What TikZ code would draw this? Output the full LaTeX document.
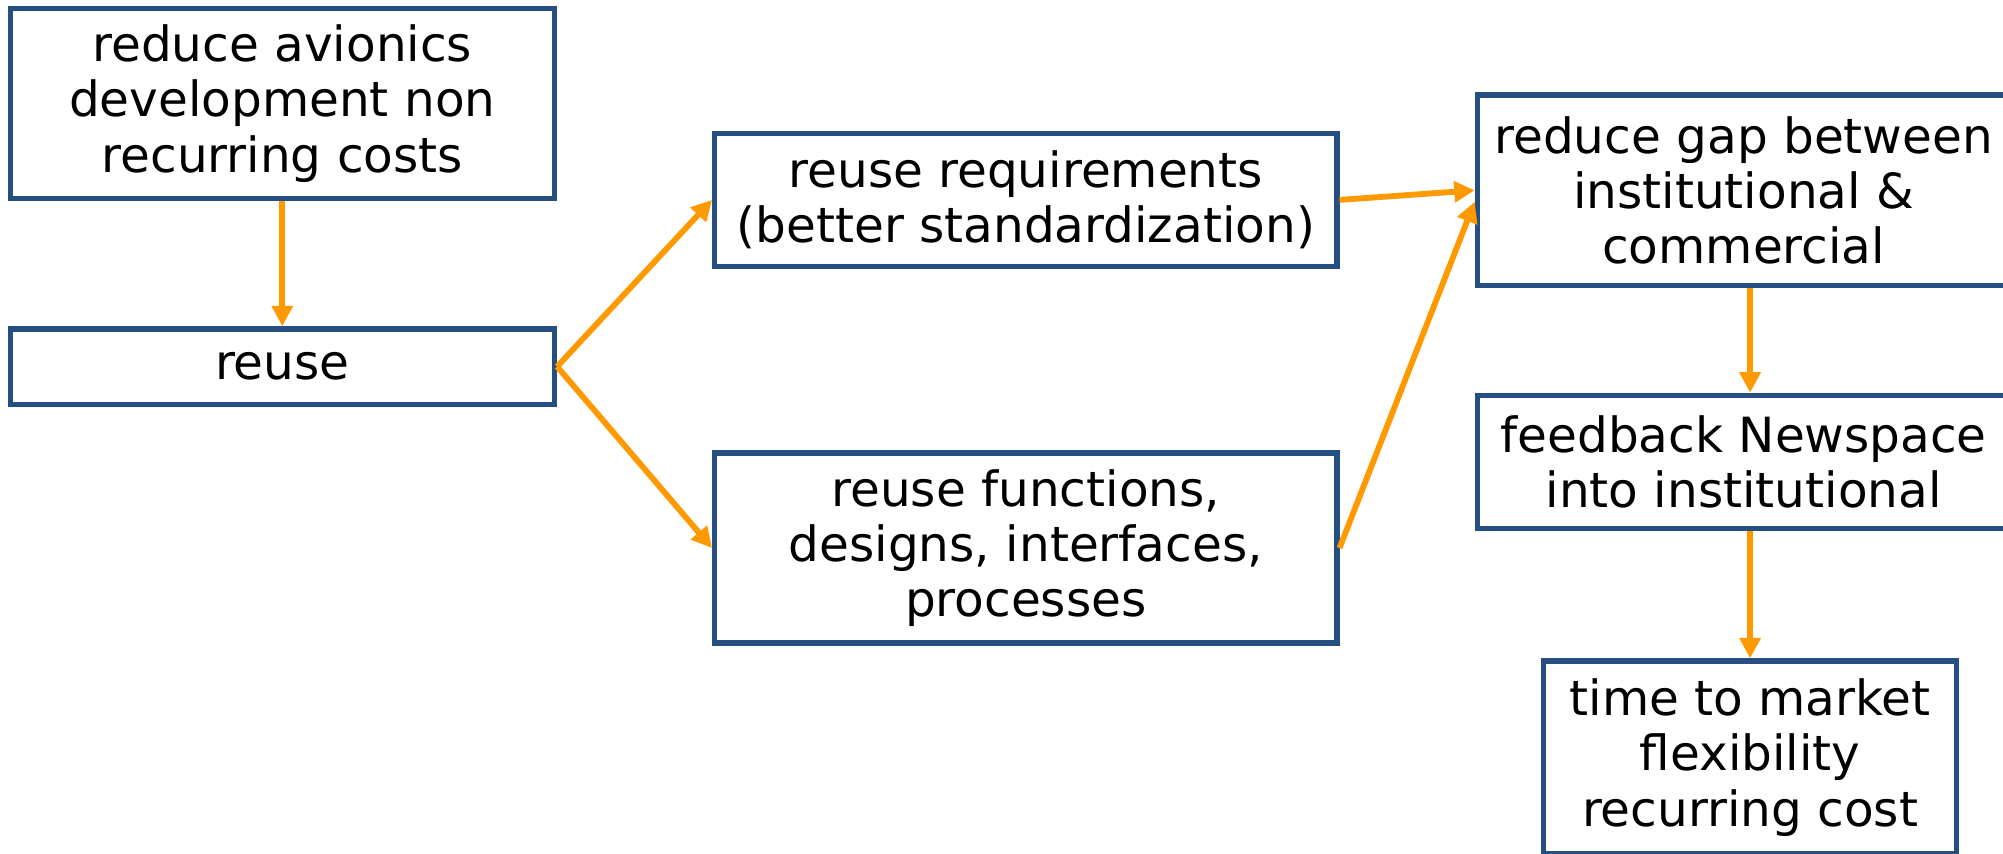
\documentclass[tikz,border=0pt]{standalone}
\usepackage{fontspec}
\setmainfont{DejaVu Sans}
\usetikzlibrary{arrows.meta}
\usetikzlibrary{calc,positioning}
\definecolor{boxblue}{RGB}{38,78,130}
\definecolor{arroworange}{RGB}{255,153,0}

\begin{document}
\begin{tikzpicture}[>={Triangle[length=1.6mm,width=1.6mm]},
 goal/.style={draw=boxblue, line width=1.2pt, align=center, inner sep=0pt,
  font=\fontsize{10.8}{12.3}\selectfont},
 link/.style={->, draw=arroworange, line width=1.3pt}]
    % margens da figura
    \useasboundingbox (0,0) rectangle (15.68,-6.68);
    % caixas
    \node[goal, minimum width=4.26cm, minimum height=1.49cm] (costs) at (2.21,-0.81)
        {reduce avionics\\development non\\recurring costs};
    \node[goal, minimum width=4.26cm, minimum height=0.59cm] (reuse) at (2.21,-2.87) {reuse};
    \node[goal, minimum width=4.87cm, minimum height=1.04cm] (req) at (8.03,-1.565)
        {reuse requirements\\(better standardization)};
    \node[goal, minimum width=4.87cm, minimum height=1.49cm] (func) at (8.03,-4.29)
        {reuse functions,\\designs, interfaces,\\processes};
    \node[goal, minimum width=4.17cm, minimum height=1.49cm] (gap) at (13.65,-1.49)
        {reduce gap between\\institutional \&\\commercial};
    \node[goal, minimum width=4.17cm, minimum height=1.04cm] (feedback) at (13.65,-3.615)
        {feedback Newspace\\into institutional};
    \node[goal, minimum width=3.23cm, minimum height=1.51cm] (market) at (13.70,-5.93)
        {time to market\\flexibility\\recurring cost};

    % setas
    \draw[link] (costs) -- (reuse);
    \draw[link] (reuse.east) -- (req.west);
    \draw[link] (reuse.east) -- (func.west);
    \draw[link] (req.east) -- (gap.west);
    \draw[link] (func.east) -- ([yshift=-0.9mm]gap.west);
    \draw[link] (market.north |- gap.south) -- (market.north |- feedback.north);
    \draw[link] (market.north |- feedback.south) -- (market.north);
\end{tikzpicture}
\end{document}
